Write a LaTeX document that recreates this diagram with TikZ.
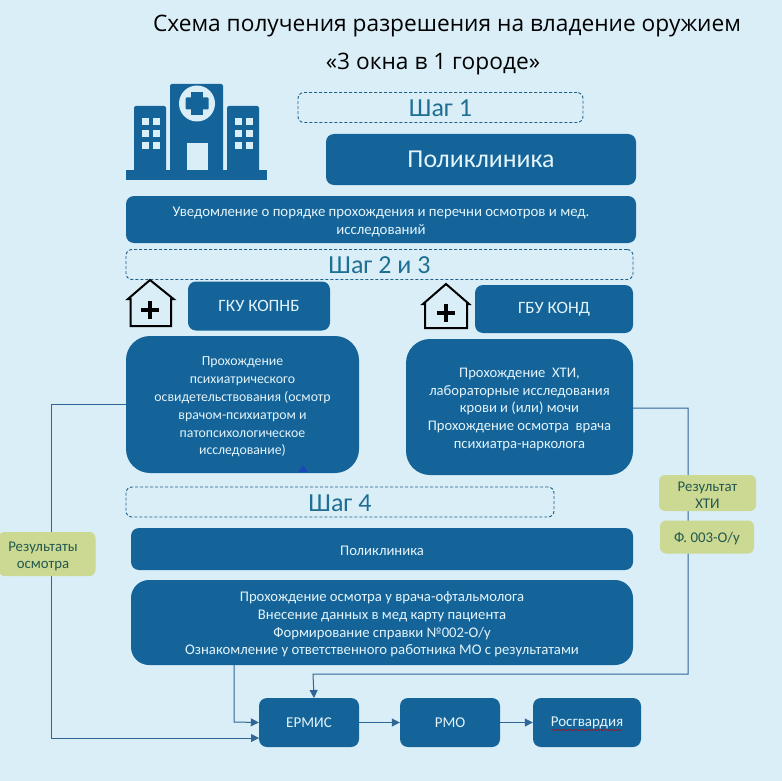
\documentclass[tikz,border=0pt]{standalone}
\usepackage{fontspec}
\setmainfont{Carlito}
\newfontfamily\titlefont{Open Sans}
\newcommand\lowerline{\rule{0pt}{14pt}}
\usetikzlibrary{arrows.meta,decorations.pathmorphing}
\definecolor{bgc}{HTML}{DAEEF8}
\definecolor{boxc}{HTML}{156499}
\definecolor{linec}{HTML}{2F6696}
\definecolor{txtc}{HTML}{E3F4FB}
\definecolor{stepc}{HTML}{1F6F93}
\definecolor{stepl}{HTML}{1F5F85}
\definecolor{greenc}{HTML}{CBD992}
\definecolor{greent}{HTML}{24584F}
\tikzset{x=1pt,y=-1pt,
 bluebox/.style={fill=boxc,text=txtc,draw=none,align=center,inner sep=0pt,rounded corners=#1},
 bluebox/.default=8pt,
 stepbox/.style={draw=stepl,dash pattern=on 3pt off 2pt,rounded corners=6pt,line width=.9pt,text=stepc,inner sep=0pt,text height=18pt,text depth=0pt,font=\fontsize{26}{28}\selectfont},
 greenbox/.style={fill=greenc,text=greent,rounded corners=6pt,align=center,inner sep=0pt,font=\fontsize{14.8}{17.5}\selectfont},
 conn/.style={draw=linec,line width=1pt},
 arr/.style={conn,-{Triangle[length=8pt,width=8pt,fill=linec]}},
 titletext/.style={font=\titlefont\fontsize{22.7}{26}\selectfont,text=black,inner sep=0pt},
 mark house/.style={draw=black,line width=2pt,line join=miter}
}
\begin{document}
\begin{tikzpicture}
\useasboundingbox (0,0) rectangle (782,781);
\fill[bgc] (0,0) rectangle (782,781);
\node[titletext] (t1) at (447,26) {Схема получения разрешения на владение оружием};
\node[titletext] (t2) at (433,64) {«3 окна в 1 городе»};

% hospital icon
\fill[boxc,rounded corners=2pt] (170,84) rectangle (223,172);
\fill[boxc,rounded corners=2pt] (134,106) rectangle (166,172);
\fill[boxc,rounded corners=2pt] (227,106) rectangle (259,172);
\fill[boxc] (126,170) rectangle (267,180);
\fill[bgc] (197,103.5) circle (18);
\fill[boxc] (191,92) rectangle (203,115);
\fill[boxc,rounded corners=1pt] (185.5,97.5) rectangle (208.5,109.5);
\fill[bgc] (187,143) rectangle (208,170);
\foreach \xx in {142,153,235,246}
 \foreach \yy in {118,130,142}
  \fill[bgc] (\xx,\yy) rectangle +(7,7);

% steps
\node[stepbox,minimum width=285pt,minimum height=30pt] (s1) at (440.5,107.5) {Шаг 1};
\node[bluebox,minimum width=310pt,minimum height=51pt,font=\fontsize{25.8}{28}\selectfont] (pol) at (481,159.5) {Поликлиника};
\node[bluebox,minimum width=510pt,minimum height=47pt,font=\fontsize{14.8}{18}\selectfont] (notice) at (381,219.5) {\lowerline Уведомление о порядке прохождения и перечни осмотров и мед.\\исследований};
\node[stepbox,minimum width=507pt,minimum height=30pt] (s2) at (379.5,264.5) {Шаг 2 и 3};

% house icons
\draw[mark house] (128,299) -- (130.5,299) -- (130.5,326) -- (171,326) -- (171,299) -- (173.5,299) -- (150,280) -- cycle;
\draw[line width=3.6pt] (150,301) -- (150,319) (141,310) -- (159,310);
\draw[mark house] (423,304) -- (425,304) -- (425,328) -- (467,328) -- (467,304) -- (469,304) -- (446,284) -- cycle;
\draw[line width=3.6pt] (446,304) -- (446,322) (437,313) -- (455,313);

\node[bluebox,minimum width=142pt,minimum height=49pt,font=\fontsize{17.3}{20}\selectfont] (kopnb) at (259,306) {ГКУ КОПНБ};
\node[bluebox,minimum width=158pt,minimum height=48pt,font=\fontsize{17.3}{20}\selectfont] (kond) at (554,309) {ГБУ КОНД};

\node[bluebox=24pt,minimum width=233pt,minimum height=137pt,font=\fontsize{13.8}{17.8}\selectfont] (psy) at (242.5,404.5) {\lowerline Прохождение\\психиатрического\\освидетельствования (осмотр\\врачом-психиатром и\\патопсихологическое\\исследование)};
\node[bluebox=24pt,minimum width=227pt,minimum height=136pt,font=\fontsize{14.6}{17.6}\selectfont] (hti) at (519.5,407) {\lowerline Прохождение\ \ ХТИ,\\лабораторные исследования\\крови и (или) мочи\\Прохождение осмотра\ \ врача\\психиатра-нарколога};
\fill[linec!60!blue!70!boxc] (298,472) -- (303,465) -- (308,472) -- cycle;

\node[stepbox,minimum width=428pt,minimum height=30pt] (s4) at (340,502) {Шаг 4};
\node[bluebox,minimum width=502pt,minimum height=42pt,font=\fontsize{14.7}{16}\selectfont] (pol2) at (382,549) {\lowerline Поликлиника};
\node[bluebox=18pt,minimum width=502pt,minimum height=85pt,font=\fontsize{14.7}{17.6}\selectfont] (exam) at (382,622.5) {\lowerline Прохождение осмотра у врача-офтальмолога\\Внесение данных в мед карту пациента\\Формирование справки №002-О/у\\Ознакомление у ответственного работника МО с результатами};

\node[bluebox,minimum width=100pt,minimum height=49pt,font=\fontsize{15}{17}\selectfont] (ermis) at (309,722.5) {ЕРМИС};
\node[bluebox,minimum width=100pt,minimum height=49pt,font=\fontsize{15}{17}\selectfont] (rmo) at (450,722.5) {РМО};
\node[bluebox,minimum width=108pt,minimum height=49pt,font=\fontsize{15}{17}\selectfont] (rg) at (587,722.5) {Росгвардия};
\draw[red!75!black,line width=.5pt,decorate,decoration={snake,amplitude=.5pt,segment length=3pt}] (552,730) -- (622,730);

% connectors
\coordinate (la) at (51,404);
\coordinate (lb) at (51,738);
\coordinate (ra) at (688,408);
\coordinate (rb) at (688,674);
\coordinate (rc) at (313,674);
\coordinate (ea) at (234,722);
\coordinate (ermisLow) at (259,738);
\coordinate (ermisTop) at (314,698);
\coordinate (examFoot) at (234,665);
\draw[arr] (psy.west |- la) -- (la) -- (lb) -- (ermisLow);
\draw[arr] (examFoot) -- (ea) -- (ermis.west);
\draw[arr] (hti.east |- ra) -- (ra) -- (rb) -- (rc) -- (ermisTop);
\draw[arr] (ermis) -- (rmo);
\draw[arr] (rmo) -- (rg);

\node[greenbox,minimum width=97pt,minimum height=44pt] (res) at (47,554) {\hspace*{-8pt}\lowerline Результаты\\\hspace*{-8pt}осмотра};
\node[greenbox,minimum width=97pt,minimum height=36pt] (rhti) at (707.5,493) {\lowerline Результат\\ХТИ};
\node[greenbox,minimum width=94pt,minimum height=33pt] (f) at (707,537) {\lowerline Ф. 003-О/у};
\end{tikzpicture}
\end{document}
